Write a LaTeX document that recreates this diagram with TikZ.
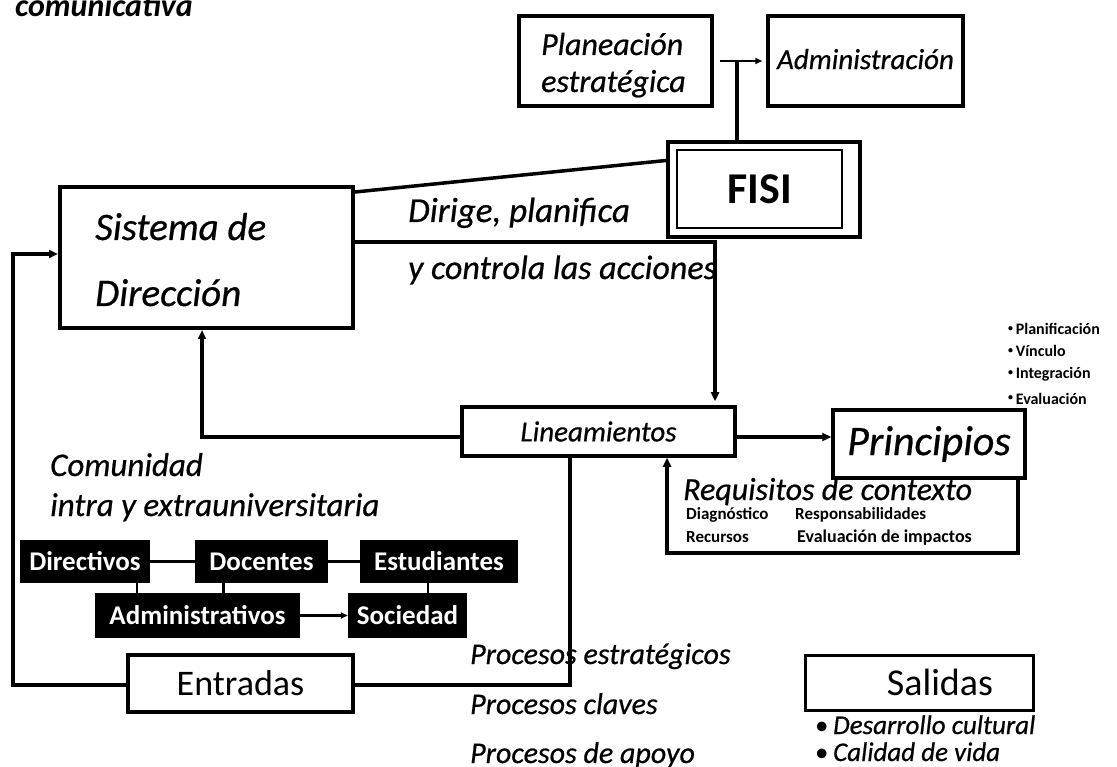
\documentclass[tikz,border=0pt]{standalone}
\usepackage{fontspec}
\setmainfont{Carlito}[ItalicFeatures={FakeBold=0.6}]
\usetikzlibrary{arrows.meta}
\newcommand\myfs[1]{\fontsize{#1}{#1}\selectfont}
\newcommand\smb{\raisebox{3.5pt}{\myfs{10}\textbullet}\,}
\begin{document}
\begin{tikzpicture}[x=1pt,y=-1pt,
  box/.style={draw, line width=3.5pt, inner sep=0pt},
  blk/.style={fill=black, text=white, font=\bfseries\myfs{27}, inner sep=0pt, minimum height=44pt, text height=18pt, text depth=1pt},
  txt/.style={inner sep=0pt, anchor=base west},
  ln/.style={line width=3.5pt},
  arr/.style={line width=3.5pt, -{Triangle[length=9pt,width=8pt]}},
  sarr/.style={line width=2.5pt, -{Triangle[length=7pt,width=6pt]}}]
\useasboundingbox (0,0) rectangle (1117,767);
\clip (0,0) rectangle (1117,767);

% top
\node[txt, font=\bfseries\itshape\myfs{32}] (com) at (15,17) {comunicativa};

\node[box, minimum width=193pt, minimum height=90pt] (plan) at (615.5,61) {};
\node[txt, font=\itshape\myfs{32}] (plan1) at (541,55) {Planeación};
\node[txt, font=\itshape\myfs{32}] (plan2) at (541,92) {estratégica};

\node[box, minimum width=195pt, minimum height=90pt, font=\itshape\myfs{29}] (admin) at (865.5,61) {\raisebox{4pt}{Administración}};

\node[box, line width=4pt, minimum width=192pt, minimum height=95pt] (fisi) at (764,189.5) {};
\node[draw, line width=2pt, minimum width=165pt, minimum height=78pt, font=\bfseries\myfs{44}] (fisiin) at (759.5,189) {FISI};

\coordinate (j) at (737,62);
\draw[sarr] ([xshift=6pt]plan.east) -- ([xshift=-4pt]admin.west);
\draw[ln] (j |- fisi.north) -- (j);

% Sistema
\node[box, line width=4pt, minimum width=293pt, minimum height=141pt] (sis) at (206.5,257.5) {};
\node[txt, font=\itshape\myfs{39}] (sis1) at (95,240) {Sistema de};
\node[txt, font=\itshape\myfs{39}] (sis2) at (95,306) {Dirección};

\draw[ln] ([yshift=-7pt]sis.north east) -- ([yshift=29pt]fisi.west);

\node[txt, font=\itshape\myfs{35}] (dir1) at (408,222) {Dirige, planifica};
\node[txt, font=\itshape\myfs{34}] (dir2) at (408,279) {y controla las acciones};

% Lineamientos
\node[box, minimum width=273pt, minimum height=49pt, font=\itshape\myfs{29}] (lin) at (598.5,431.5) {Lineamientos};
\coordinate (dl) at (715,242);
\draw[arr, shorten >=4pt] ([yshift=15.5pt]sis.east) -- (dl) -- (dl |- lin.north);

\coordinate (ls) at (202,437);
\draw[arr] (lin.west |- ls) -- (ls) -- (ls |- sis.south);

% Principios
\node[box, minimum width=192pt, minimum height=68pt, font=\itshape\myfs{42}] (prin) at (929,444) {Principios};
\draw[arr] (lin.east |- ls) -- (ls -| prin.west);

\node[txt, font=\bfseries\myfs{16}] (b1) at (1008,335) {\smb Planificación};
\node[txt, font=\bfseries\myfs{16}] (b2) at (1008,357) {\smb Vínculo};
\node[txt, font=\bfseries\myfs{16}] (b3) at (1008,379) {\smb Integración};
\node[txt, font=\bfseries\myfs{16}] (b4) at (1008,404) {\smb Evaluación};

% Requisitos
\coordinate (rq1) at (1018,553);
\coordinate (rq2) at (667,553);
\draw[arr] (rq1 |- prin.south) -- (rq1) -- (rq2) -- (rq2 |- lin.south);
\node[txt, font=\itshape\myfs{32}] (req) at (683,500) {Requisitos de contexto};
\node[txt, font=\bfseries\myfs{17}] (r1) at (686,519) {Diagnóstico};
\node[txt, font=\bfseries\myfs{17}] (r2) at (795,519) {Responsabilidades};
\node[txt, font=\bfseries\myfs{17}] (r3) at (686,542) {Recursos};
\node[txt, font=\bfseries\myfs{18}] (r4) at (797,542) {Evaluación de impactos};

% Comunidad
\node[txt, font=\itshape\myfs{33}] (c1) at (50,476) {Comunidad};
\node[txt, font=\itshape\myfs{33}] (c2) at (50,516) {intra y extrauniversitaria};

\node[blk, minimum width=130pt, minimum height=43pt] (dirv) at (85,561.5) {Directivos};
\node[blk, minimum width=133pt, minimum height=43pt] (doc) at (261.5,561.5) {Docentes};
\node[blk, minimum width=158pt, minimum height=43pt] (est) at (439,561.5) {Estudiantes};
\node[blk, minimum width=205pt, minimum height=45pt] (adm) at (197.5,615.5) {Administrativos};
\node[blk, minimum width=119pt, minimum height=45pt] (soc) at (407.5,615.5) {Sociedad};
\draw[ln, line width=2.5pt] (dirv.east) -- (doc.west);
\draw[ln, line width=2.5pt] (doc.east) -- (est.west);
\draw[ln, line width=2.5pt] ([xshift=52pt]dirv.south) -- ([xshift=52pt]dirv.south |- adm.north);
\draw[ln, line width=2.5pt] ([xshift=-38pt]doc.south) -- ([xshift=-38pt]doc.south |- adm.north);
\draw[ln, line width=2.5pt] ([xshift=-11pt]est.south) -- ([xshift=-11pt]est.south |- soc.north);
\draw[sarr] (adm.east) -- (soc.west);

% Entradas
\node[box, minimum width=225pt, minimum height=57pt, font=\myfs{36}] (ent) at (240.5,683.5) {Entradas};
\coordinate (le) at (570,685);
\draw[ln] (le |- lin.south) -- (le) -- (ent.east |- le);
\coordinate (el) at (13,685);
\coordinate (el2) at (13,254);
\draw[arr] (ent.west |- el) -- (el) -- (el2) -- (el2 -| sis.west);

% Procesos
\node[txt, font=\itshape\myfs{30}] (p1) at (470,664) {Procesos estratégicos};
\node[txt, font=\itshape\myfs{30}] (p2) at (470,714) {Procesos claves};
\node[txt, font=\itshape\myfs{30}] (p3) at (470,763) {Procesos de apoyo};

% Salidas
\node[box, line width=3pt, minimum width=228pt, minimum height=55pt] (sal) at (919,682.5) {};
\node[font=\myfs{38}, inner sep=0pt] (saltx) at (940,682) {Salidas};
\node[txt, font=\itshape\myfs{27}] (s1) at (815,734) {\upshape\textbullet\,\itshape Desarrollo cultural};
\node[txt, font=\itshape\myfs{27}] (s2) at (815,761) {\upshape\textbullet\,\itshape Calidad de vida};
\end{tikzpicture}
\end{document}
